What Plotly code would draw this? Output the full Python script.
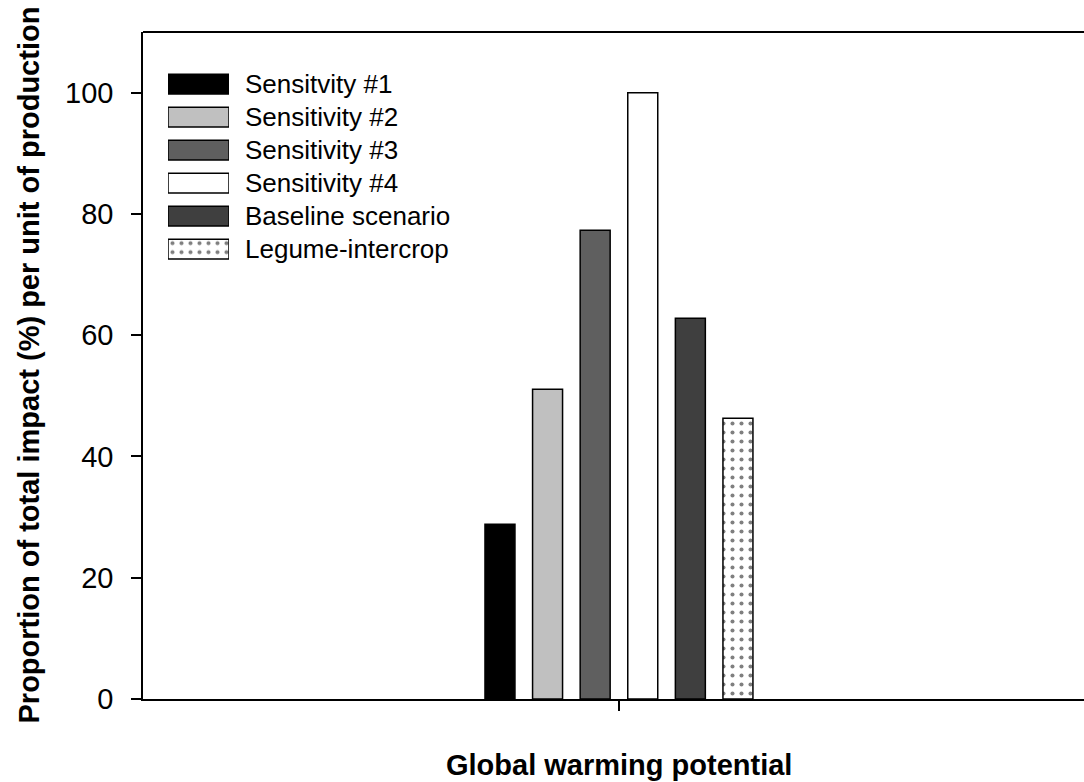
import plotly.graph_objects as go

# ---- data ----
impact_category = "Global warming potential"
series_names = ["Sensitvity #1", "Sensitivity #2", "Sensitivity #3",
                "Sensitivity #4", "Baseline scenario", "Legume-intercrop"]
series_values = [28.8, 51.1, 77.3, 100.0, 62.8, 46.3]
y_tick_values = [0, 20, 40, 60, 80, 100]
y_title = "Proportion of total impact (%) per unit of production"

# ---- styles ----
fill_colors = ["#000000", "#c0c0c0", "#5f5f5f", "#ffffff", "#3f3f3f", "#ffffff"]
patterns = ["", "", "", "", "", "."]
FONT = "Liberation Sans, Arial, sans-serif"
PAT_SIZE = 9
PAT_SOLIDITY = 0.16

fig = go.Figure()

for i, (name, val) in enumerate(zip(series_names, series_values)):
    fig.add_trace(go.Bar(
        x=[0], y=[val], name=name, showlegend=False,
        marker=dict(color=fill_colors[i],
                    line=dict(color="#000000", width=1.5),
                    pattern=dict(shape=patterns[i], fgcolor="#000000",
                                 bgcolor="#ffffff", size=PAT_SIZE,
                                 solidity=PAT_SOLIDITY)),
        xaxis="x", yaxis="y",
    ))

# custom legend swatches (horizontal bars on hidden axes)
for i, name in enumerate(series_names):
    fig.add_trace(go.Bar(
        x=[1], y=[i], base=0, orientation="h", width=0.6,
        showlegend=False, hoverinfo="skip",
        marker=dict(color=fill_colors[i],
                    line=dict(color="#000000", width=1.5),
                    pattern=dict(shape=patterns[i], fgcolor="#000000",
                                 bgcolor="#ffffff", size=PAT_SIZE,
                                 solidity=PAT_SOLIDITY)),
        xaxis="x2", yaxis="y2",
    ))

annotations = []
for i, name in enumerate(series_names):
    annotations.append(dict(
        x=1, y=i, xref="x2", yref="y2", text=name, showarrow=False,
        xanchor="left", yanchor="middle", xshift=14,
        font=dict(family=FONT, size=26, color="#000000"),
    ))

annotations.append(dict(
    x=0, y=0, xref="x", yref="paper", text="<b>" + impact_category + "</b>",
    showarrow=False, xanchor="center", yanchor="middle", yshift=-66,
    font=dict(family=FONT, size=29, color="#000000"),
))
annotations.append(dict(
    x=0, y=0.5, xref="paper", yref="paper", text="<b>" + y_title + "</b>",
    showarrow=False, xanchor="center", yanchor="middle", xshift=-115,
    textangle=-90,
    font=dict(family=FONT, size=29, color="#000000"),
))

fig.update_layout(
    width=1084, height=782,
    margin=dict(l=143, r=0, t=32, b=83),
    paper_bgcolor="#ffffff", plot_bgcolor="#ffffff",
    barmode="group", bargap=0.1, bargroupgap=0.37,
    font=dict(family=FONT, color="#000000"),
    xaxis=dict(range=[-1.5, 1.4656], showgrid=False, zeroline=False,
               showline=True, linecolor="#000000", linewidth=1.5,
               tickvals=[0], ticktext=[""], ticks="outside", ticklen=10,
               tickwidth=1.5, tickcolor="#000000"),
    yaxis=dict(range=[0, 110], showgrid=False, zeroline=False,
               showline=True, linecolor="#000000", linewidth=1.5,
               tickvals=y_tick_values, ticks="outside", ticklen=10,
               tickwidth=1.5, tickcolor="#000000", ticklabelstandoff=12,
               tickfont=dict(family=FONT, size=29, color="#000000")),
    xaxis2=dict(domain=[0.02657, 0.09139], range=[0, 1], visible=False,
                anchor="y2", fixedrange=True),
    yaxis2=dict(domain=[0.6496, 0.9465], range=[5.5, -0.5], visible=False,
                anchor="x2", fixedrange=True),
    annotations=annotations,
    shapes=[dict(type="line", xref="paper", yref="paper", x0=0, x1=1,
                 y0=1, y1=1, line=dict(color="#000000", width=1.8))],
)

fig.write_html("out.html")
